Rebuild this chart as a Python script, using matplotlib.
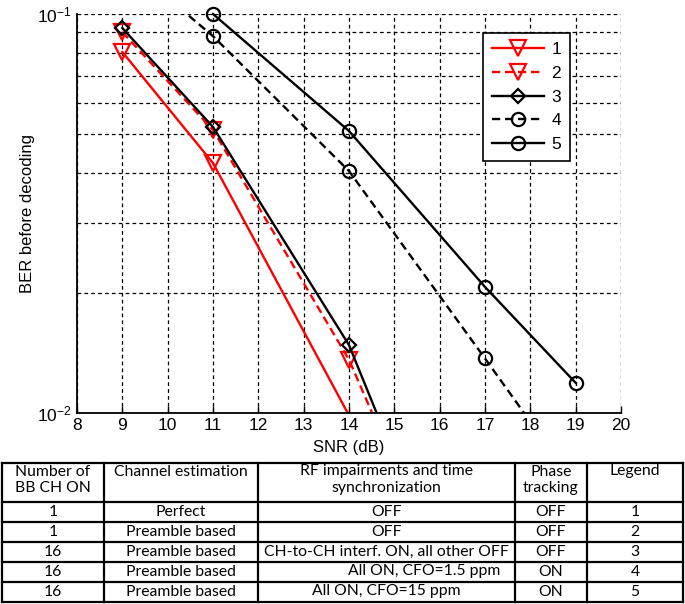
import numpy as np
import matplotlib
matplotlib.use("Agg")
import matplotlib.pyplot as plt
from matplotlib.ticker import LogLocator, NullFormatter, FixedLocator

plt.rcParams['font.family'] = ['Liberation Sans', 'DejaVu Sans']

# BER curves
snr_1 = [9, 11, 17]
ber_1 = [0.0803, 0.0423, 0.0023]
snr_2 = [9, 11, 14, 17]
ber_2 = [0.0901, 0.0512, 0.0136, 0.00223]
snr_3 = [9, 11, 14, 17]
ber_3 = [0.0922, 0.0521, 0.0148, 0.00215]
snr_4 = [9, 11, 14, 17, 19]
ber_4 = [0.137, 0.088, 0.0404, 0.0137, 0.0066]
snr_5 = [11, 14, 17, 19]
ber_5 = [0.100, 0.0509, 0.0207, 0.0119]
labels = ['1', '2', '3', '4', '5']

# table contents
headers = ['Number of\nBB CH ON', 'Channel estimation',
           'RF impairments and time\nsynchronization', 'Phase\ntracking', 'Legend']
num_ch = ['1', '1', '16', '16', '16']
chan_est = ['Perfect', 'Preamble based', 'Preamble based', 'Preamble based', 'Preamble based']
rf_imp = ['OFF', 'OFF', 'CH-to-CH interf. ON, all other OFF',
          'All ON, CFO=1.5 ppm', 'All ON, CFO=15 ppm']
phase_tr = ['OFF', 'OFF', 'OFF', 'ON', 'ON']

W, H = 685, 604
fig = plt.figure(figsize=(W / 100, H / 100), dpi=100)

# ---- BER plot ----
ax = fig.add_axes([77 / W, 1 - 413 / H, 544 / W, 399 / H])
lw = 1.7
dash = (0, (3.5, 2))
ax.semilogy(snr_1, ber_1, color='red', lw=lw, marker='v', ms=11.5, mew=1.6,
            mfc='none', label=labels[0])
ax.semilogy(snr_2, ber_2, color='red', lw=lw, ls=dash, marker='v', ms=11.5, mew=1.6,
            mfc='none', label=labels[1])
ax.semilogy(snr_3, ber_3, color='black', lw=lw, marker='D', ms=7.5, mew=1.6,
            mfc='none', label=labels[2])
ax.semilogy(snr_4, ber_4, color='black', lw=lw, ls=dash, marker='o', ms=9.5, mew=1.6,
            mfc='none', label=labels[3])
ax.semilogy(snr_5, ber_5, color='black', lw=lw, marker='o', ms=9.5, mew=1.6,
            mfc='none', label=labels[4], clip_on=False)

ax.set_xlim(8, 20)
ax.set_ylim(1e-2, 1e-1)
ax.xaxis.set_major_locator(FixedLocator(np.arange(8, 21)))
ax.yaxis.set_major_locator(FixedLocator([1e-2, 1e-1]))
ax.set_yticklabels([r'$\mathregular{10^{-2}}$', r'$\mathregular{10^{-1}}$'])
ax.yaxis.set_minor_locator(LogLocator(base=10, subs=np.arange(2, 10)))
ax.yaxis.set_minor_formatter(NullFormatter())
ax.tick_params(which='both', direction='in', labelsize=12.5, colors='black')
ax.tick_params(which='major', length=5, width=1)
ax.tick_params(which='minor', length=3, width=1)
ax.tick_params(axis='y', which='both', length=0)
ax.grid(True, which='both', color='black', ls=(0, (3, 2.5)), lw=0.9)
for s in ['top', 'right']:
    ax.spines[s].set_visible(False)
for s in ['left', 'bottom']:
    ax.spines[s].set_linewidth(1.3)

ax.set_xlabel('SNR (dB)', fontsize=12, labelpad=5)
ax.set_ylabel('BER before decoding', fontsize=12, labelpad=2)

leg = ax.legend(loc='upper left', bbox_to_anchor=(0.746, 0.952), borderaxespad=0,
                fontsize=12.5, fancybox=False, framealpha=1, edgecolor='black',
                handlelength=3.0, handletextpad=0.45, labelspacing=0.5,
                borderpad=0.5)
leg.get_frame().set_linewidth(1.2)

# ---- table ----
tax = fig.add_axes([0, 0, 1, 1], zorder=-1)
tax.set_xlim(0, W)
tax.set_ylim(H, 0)
tax.axis('off')

col_edges = [2, 104, 258, 515, 587, 683]
row_edges = [462.5, 501.5, 521.5, 541.5, 561.5, 581.5, 601.5]
tfont = dict(family=['Lato', 'DejaVu Sans'], fontsize=11.3, color='black')

for x in col_edges:
    tax.plot([x, x], [row_edges[0], row_edges[-1]], color='black', lw=1.6)
for y in row_edges:
    tax.plot([col_edges[0], col_edges[-1]], [y, y], color='black', lw=1.6)

centers = [(a + b) / 2 for a, b in zip(col_edges[:-1], col_edges[1:])]
for c, h in zip(centers, headers):
    tax.text(c, row_edges[0] + 2, h, ha='center', va='top', linespacing=1.25, **tfont)

columns = [num_ch, chan_est, rf_imp, phase_tr, labels]
for j, col in enumerate(columns):
    for i, txt in enumerate(col):
        yc = (row_edges[i + 1] + row_edges[i + 2]) / 2
        xc = centers[j]
        if j == 2 and i == 3:
            xc += 38
        tax.text(xc, yc, txt, ha='center', va='center', **tfont)

fig.savefig('out.png', dpi=100)
